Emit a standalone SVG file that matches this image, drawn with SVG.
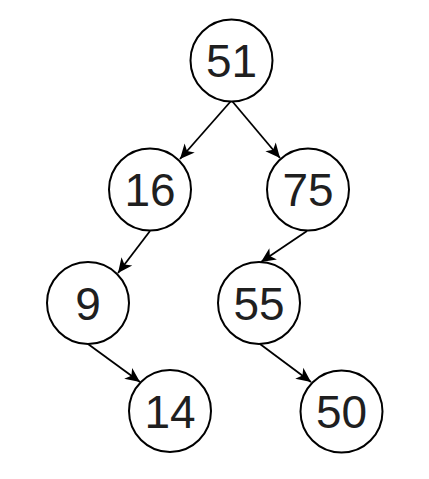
<svg xmlns="http://www.w3.org/2000/svg" width="429" height="479" viewBox="0 0 429 479">
<style>
.node circle{fill:#fff;stroke:#000;stroke-width:2}
.node text{font-family:"Liberation Sans",Arial,sans-serif;font-size:46px;fill:#1f1f1f;text-anchor:middle}
.edge{stroke:#000;stroke-width:1.8;fill:none;marker-end:url(#arr)}
</style>
<defs>
<marker id="arr" markerUnits="userSpaceOnUse" markerWidth="18" markerHeight="18" viewBox="-15 -8 16 16" refX="0" refY="0" orient="auto">
<path d="M0,0 L-13,-6 L-9.5,0 L-13,6 Z" fill="#000"/>
</marker>
</defs>
<rect width="429" height="479" fill="#fff"/>
<g id="connectors">
<line class="edge" x1="231" y1="101" x2="180" y2="159"/>
<line class="edge" x1="232" y1="101" x2="280" y2="158"/>
<line class="edge" x1="150" y1="231" x2="118" y2="273"/>
<line class="edge" x1="307" y1="231" x2="261" y2="262"/>
<line class="edge" x1="88" y1="344" x2="140" y2="382"/>
<line class="edge" x1="260" y1="344" x2="311" y2="382"/>
</g>
<g id="n51" class="node"><circle cx="231.5" cy="60.5" r="41"/><text x="231.5" y="77">51</text></g>
<g id="n16" class="node"><circle cx="150" cy="189.5" r="41"/><text x="150" y="206">16</text></g>
<g id="n75" class="node"><circle cx="308" cy="189.5" r="41"/><text x="308" y="206">75</text></g>
<g id="n9" class="node"><circle cx="88" cy="303" r="41"/><text x="88" y="319.5">9</text></g>
<g id="n55" class="node"><circle cx="259" cy="303" r="41"/><text x="259" y="319.5">55</text></g>
<g id="n14" class="node"><circle cx="170" cy="411" r="41"/><text x="170" y="427.5">14</text></g>
<g id="n50" class="node"><circle cx="341.5" cy="411.5" r="41"/><text x="341.5" y="428">50</text></g>
</svg>
